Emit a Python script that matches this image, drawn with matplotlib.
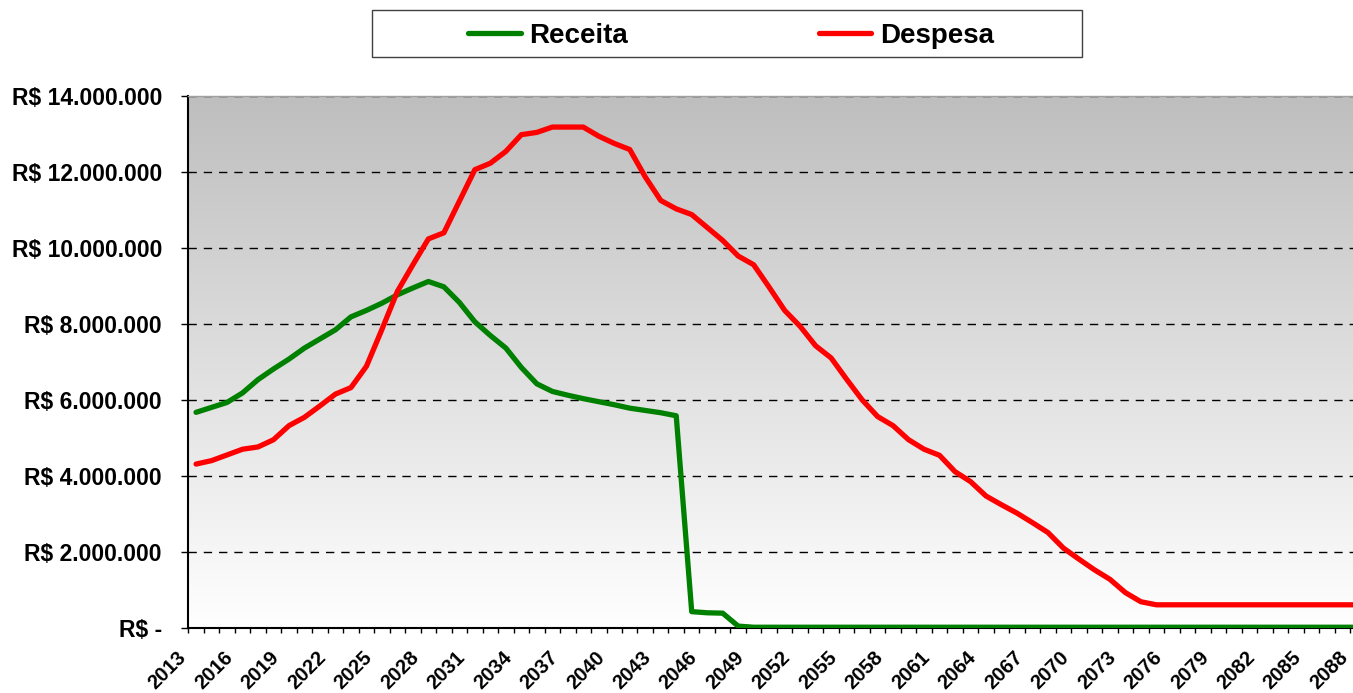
import numpy as np
import matplotlib.pyplot as plt
import matplotlib.transforms as mtransforms
from matplotlib.colors import LinearSegmentedColormap
from matplotlib.patches import Rectangle
from matplotlib.ticker import FuncFormatter

plt.rcParams['font.family'] = ['Liberation Sans', 'DejaVu Sans']
plt.rcParams['font.weight'] = 'bold'

# ------------------------------------------------------------------
# data (R$ millions per year)
# ------------------------------------------------------------------
years = list(range(2013, 2089))

receita = [5.67, 5.80, 5.93, 6.18, 6.53, 6.81, 7.07, 7.36, 7.60, 7.84,
           8.18, 8.35, 8.54, 8.76, 8.94, 9.11, 8.97, 8.56, 8.05, 7.69,
           7.36, 6.85, 6.42, 6.22, 6.12, 6.03, 5.95, 5.87, 5.78, 5.72,
           5.66, 5.58, 0.43, 0.40, 0.39, 0.05] + [0.02] * 40

despesa = [4.31, 4.40, 4.55, 4.70, 4.76, 4.95, 5.32, 5.54, 5.84, 6.15,
           6.32, 6.88, 7.85, 8.85, 9.55, 10.23, 10.39, 11.22, 12.05, 12.22,
           12.53, 12.97, 13.03, 13.17, 13.17, 13.17, 12.93, 12.74, 12.58, 11.86,
           11.24, 11.02, 10.87, 10.53, 10.19, 9.78, 9.55, 8.96, 8.35, 7.93,
           7.42, 7.10, 6.54, 6.00, 5.56, 5.32, 4.95, 4.70, 4.54, 4.11,
           3.85, 3.47, 3.24, 3.02, 2.77, 2.51, 2.10, 1.81, 1.53, 1.28,
           0.93, 0.69, 0.61] + [0.61] * 13

# ------------------------------------------------------------------
# figure / plot area (pixel layout)
# ------------------------------------------------------------------
W, H = 1353, 693
fig = plt.figure(figsize=(W / 100, H / 100), dpi=100)
left, right, top, bottom = 188.3, 1365.5, 95.5, 628
ax = fig.add_axes([left / W, (H - bottom) / H, (right - left) / W, (bottom - top) / H])

x = np.arange(len(years))

# grey-to-white vertical gradient behind the plot
grad = np.linspace(0, 1, 256).reshape(-1, 1)
bg = LinearSegmentedColormap.from_list('bg', ['#ffffff', '#bebebe'])
ax.imshow(grad, cmap=bg, aspect='auto', extent=[0, 1, 0, 1],
          transform=ax.transAxes, origin='lower', zorder=0)

ax.plot(x, np.array(receita) * 1e6, color='#008000', lw=3.8,
        solid_capstyle='round', solid_joinstyle='round', label='Receita', zorder=3)
ax.plot(x, np.array(despesa) * 1e6, color='#ff0000', lw=3.8,
        solid_capstyle='round', solid_joinstyle='round', label='Despesa', zorder=4)

ax.set_xlim(-0.5, len(years) - 0.5)
ax.set_ylim(0, 14e6)

# y axis
ax.set_yticks(np.arange(0, 14e6 + 1, 2e6))
ax.yaxis.set_major_formatter(FuncFormatter(
    lambda v, p: 'R$ -' if v == 0 else 'R$ ' + f'{v:,.0f}'.replace(',', '.')))
ax.tick_params(axis='y', direction='out', length=5, width=1, pad=14, labelsize=16.5)
ax.yaxis.grid(True, color='black', lw=1, linestyle=(0, (6, 5)))

# x axis: tick marks between categories, label every 3 years
ax.set_xticks(x[::3])
ax.set_xticklabels([str(y) for y in years[::3]], rotation=45, ha='right', va='top')
ax.set_xticks(np.arange(-0.5, len(years)), minor=True)
ax.tick_params(axis='x', which='major', length=0, pad=14, labelsize=14.5)
ax.tick_params(axis='x', which='minor', direction='out', length=3.5, width=1)
shift = mtransforms.ScaledTranslation(-6 / 100, 0, fig.dpi_scale_trans)
for lbl in ax.get_xticklabels():
    lbl.set_transform(lbl.get_transform() + shift)

for s in ('left', 'bottom'):
    ax.spines[s].set_color('black')
    ax.spines[s].set_linewidth(1.5)
for s in ('top', 'right'):
    ax.spines[s].set_color('#a0a0a0')
    ax.spines[s].set_linewidth(1)

# legend box on top
fig.add_artist(Rectangle((372 / W, (H - 57) / H), 710 / W, 47 / H,
                         transform=fig.transFigure, facecolor='white',
                         edgecolor='#404040', lw=1))
handles, labels = ax.get_legend_handles_labels()
fig.legend(handles, labels, loc='center', bbox_to_anchor=(731 / W, (H - 36) / H),
           ncol=2, frameon=False, fontsize=20, handlelength=1.9,
           handletextpad=0.3, columnspacing=6.86)

fig.savefig('out.png', dpi=100)
